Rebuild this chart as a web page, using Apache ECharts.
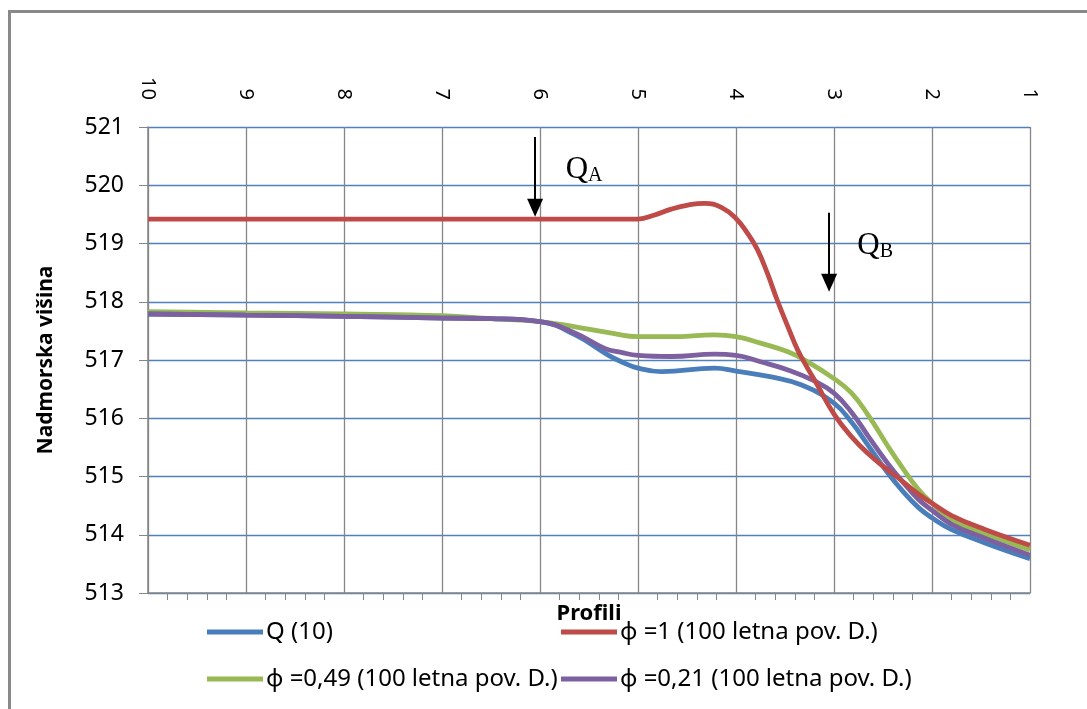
<!DOCTYPE html>
<html>
<head>
<meta charset="utf-8">
<script src="https://cdn.jsdelivr.net/npm/echarts@6/dist/echarts.min.js"></script>
<style>
  html, body { margin: 0; padding: 0; background: #fff; }
  #main { width: 1087px; height: 709px; }
</style>
</head>
<body>
<div id="main"></div>
<script>
// profile ticks (shown on the top axis, 10 at the left)
const profileTicks = [10, 9, 8, 7, 6, 5, 4, 3, 2, 1];
const heightTicks = [513, 514, 515, 516, 517, 518, 519, 520, 521];

const seriesNames = [
  'Q (10)',
  'ϕ =1 (100 letna pov. D.)',
  'ϕ =0,49 (100 letna pov. D.)',
  'ϕ =0,21 (100 letna pov. D.)'
];

// [profile, elevation]
const q10 = [
  [10, 517.79], [9, 517.77], [8, 517.75], [7, 517.72], [6.5, 517.71], [6, 517.66],
  [5.64, 517.43], [5.3, 517.08], [5.17, 516.97], [5, 516.86], [4.76, 516.8],
  [4.22, 516.86], [4, 516.81], [3.64, 516.71], [3.33, 516.57], [3, 516.26],
  [2.82, 515.93], [2.65, 515.53], [2.45, 515.06], [2.31, 514.77], [2.14, 514.47],
  [2, 514.29], [1.8, 514.09], [1.46, 513.86], [1, 513.59]
];
const phi100 = [
  [10, 519.42], [9, 519.42], [8, 519.42], [7, 519.42], [6, 519.42], [5, 519.42],
  [4.83, 519.49], [4.66, 519.59], [4.49, 519.66], [4.32, 519.69], [4.15, 519.62],
  [4, 519.43], [3.88, 519.17], [3.78, 518.89], [3.68, 518.49], [3.58, 518.03],
  [3.47, 517.57], [3.37, 517.17], [3.27, 516.86], [3.18, 516.6], [3, 516.07],
  [2.82, 515.68], [2.65, 515.39], [2.45, 515.11], [2.31, 514.93], [2.14, 514.7],
  [2, 514.54], [1.8, 514.33], [1.46, 514.09], [1, 513.82]
];
const phi049 = [
  [10, 517.83], [9, 517.81], [8, 517.79], [7, 517.76], [6.5, 517.71], [6, 517.66],
  [5.64, 517.57], [5.27, 517.46], [5, 517.4], [4.66, 517.4], [4.22, 517.43],
  [4, 517.4], [3.75, 517.29], [3.47, 517.14], [3.27, 516.97], [3, 516.68],
  [2.82, 516.43], [2.65, 516.05], [2.45, 515.52], [2.31, 515.17], [2.14, 514.78],
  [2, 514.54], [1.8, 514.26], [1.46, 514.02], [1, 513.74]
];
const phi021 = [
  [10, 517.79], [9, 517.77], [8, 517.75], [7, 517.72], [6.5, 517.71], [6, 517.66],
  [5.64, 517.46], [5.34, 517.2], [5.17, 517.13], [5, 517.08], [4.66, 517.06],
  [4.22, 517.1], [4, 517.08], [3.75, 516.97], [3.47, 516.83], [3.2, 516.64],
  [3, 516.43], [2.82, 516.1], [2.65, 515.69], [2.45, 515.22], [2.31, 514.93],
  [2.14, 514.61], [2, 514.42], [1.8, 514.18], [1.46, 513.94], [1, 513.65]
];

// inflow arrows: [profile, top, tip]
const arrowA = [6.05, 520.83, 519.46];
const arrowB = [3.05, 519.53, 518.17];
const labelA = [5.55, 520.26];
const labelB = [2.58, 518.96];

const colors = ['#4A7EBB', '#BE4B48', '#98B954', '#7D60A0'];
const font = "'Noto Sans', sans-serif";
const headLen = 18; // arrow head length, px

let myChart = echarts.init(document.getElementById('main'));

function legendAt(i, left, top) {
  return {
    data: [seriesNames[i]],
    left: left,
    top: top,
    padding: 0,
    icon: 'rect',
    itemWidth: 56,
    itemHeight: 5,
    textStyle: { fontFamily: font, fontSize: 24, color: '#000', padding: [0, 0, 0, -2] }
  };
}

function lineSeries(i, data, extra) {
  return Object.assign({
    name: seriesNames[i],
    type: 'line',
    data: data,
    smooth: 0.45,
    symbol: 'none',
    lineStyle: { width: 4.8, color: colors[i] },
    itemStyle: { color: colors[i] },
    z: 3
  }, extra || {});
}

// plot height 466px for 8 units -> shift the head centre up by half its length
const unitPx = 466 / 8;
const arrowLine = function (a) {
  return [{ coord: [a[0], a[1]] }, { coord: [a[0], a[2] + headLen / 2 / unitPx] }];
};
const labelRich = {
  q: { fontFamily: "'Liberation Serif', serif", fontSize: 31, color: '#000' },
  s: { fontFamily: "'Liberation Serif', serif", fontSize: 20, color: '#000', verticalAlign: 'bottom', padding: [8, 0, 0, 0] }
};

let option = {
  backgroundColor: '#fff',
  animation: false,
  color: colors,
  graphic: [{
    type: 'rect',
    shape: { x: 9.5, y: 11.5, width: 1200, height: 900 },
    style: { fill: 'none', stroke: '#898989', lineWidth: 3 },
    silent: true
  }],
  grid: { left: 148, right: 57, top: 127, bottom: 116 },
  legend: [
    legendAt(0, 207, 620),
    legendAt(1, 561, 620),
    legendAt(2, 207, 667),
    legendAt(3, 561, 667)
  ],
  xAxis: [{
    type: 'value',
    position: 'top',
    min: 1,
    max: 10,
    interval: 1,
    inverse: true,
    axisLine: { show: false },
    axisTick: { show: false },
    axisLabel: {
      rotate: 90,
      margin: 27,
      fontFamily: font,
      fontSize: 20,
      color: '#000',
      formatter: function (v) { return profileTicks.indexOf(v) >= 0 ? String(v) : ''; }
    },
    splitLine: { show: true, lineStyle: { color: '#868686', width: 1.3 } }
  }, {
    type: 'value',
    position: 'bottom',
    min: 1,
    max: 10,
    interval: 1,
    inverse: true,
    name: 'Profili',
    nameLocation: 'middle',
    nameGap: 10,
    nameTextStyle: { fontFamily: font, fontSize: 22, fontWeight: 'bold', color: '#000', verticalAlign: 'top' },
    axisLine: { show: true, lineStyle: { color: '#868686', width: 1.5 } },
    axisTick: { show: false },
    minorTick: { show: true, splitNumber: 5, length: 7, lineStyle: { color: '#868686' } },
    axisLabel: { show: false },
    splitLine: { show: false }
  }],
  yAxis: {
    type: 'value',
    min: 513,
    max: 521,
    interval: 1,
    name: 'Nadmorska višina',
    nameLocation: 'middle',
    nameRotate: 90,
    nameGap: 91,
    nameTextStyle: { fontFamily: font, fontSize: 21, fontWeight: 'bold', color: '#000' },
    axisLine: { show: true, lineStyle: { color: '#868686', width: 1.5 } },
    axisTick: { show: true, length: 9, lineStyle: { color: '#868686' } },
    axisLabel: {
      margin: 24,
      fontFamily: font,
      fontSize: 23,
      color: '#000',
      formatter: function (v) { return heightTicks.indexOf(v) >= 0 ? String(v) : ''; }
    },
    splitLine: { show: true, lineStyle: { color: '#4F81BD', width: 1.3 } }
  },
  series: [
    lineSeries(0, q10, { z: 4 }),
    lineSeries(1, phi100, {
      z: 5,
      markLine: {
        silent: true,
        symbol: ['none', 'triangle'],
        symbolSize: [16, headLen],
        lineStyle: { color: '#000', width: 2, type: 'solid' },
        itemStyle: { color: '#000' },
        label: { show: false },
        data: [arrowLine(arrowA), arrowLine(arrowB)]
      },
      markPoint: {
        silent: true,
        symbol: 'circle',
        symbolSize: 0,
        label: {
          show: true,
          position: 'inside',
          rich: labelRich
        },
        data: [
          { coord: labelA, label: { formatter: '{q|Q}{s|A}' } },
          { coord: labelB, label: { formatter: '{q|Q}{s|B}' } }
        ]
      }
    }),
    lineSeries(2, phi049, { z: 3 }),
    lineSeries(3, phi021, { z: 4 })
  ]
};

myChart.setOption(option);
</script>
</body>
</html>
